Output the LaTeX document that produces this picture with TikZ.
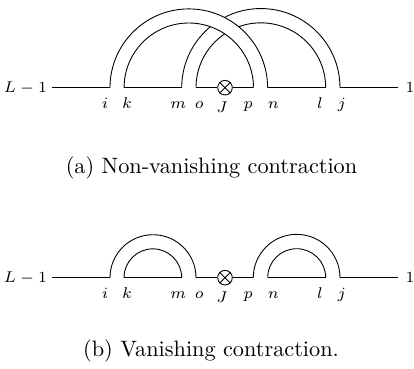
\documentclass[tikz,border=0pt]{standalone}
\begin{document}
\begin{tikzpicture}[x=0.4492pt,y=0.4492pt,
  lbl/.style={font=\scriptsize, anchor=base, inner sep=0pt},
  endlbl/.style={font=\scriptsize, inner sep=0pt},
  captext/.style={font=\normalsize, anchor=base, inner sep=0pt},
  src/.style={circle, draw, inner sep=0pt, minimum size=6.56pt},
  bandfill/.style={fill=white, draw=none}]
\useasboundingbox (0,0) rectangle (414,369);

% ---------- (a) ----------
\coordinate (aL) at (52.3,281.3);
\coordinate (aR) at (397.7,281.3);
\coordinate (ai) at (110,281.3);
\coordinate (ak) at (124.1,281.3);
\coordinate (am) at (181.7,281.3);
\coordinate (ao) at (196,281.3);
\coordinate (ap) at (253.5,281.3);
\coordinate (an) at (267.6,281.3);
\coordinate (al) at (325.7,281.3);
\coordinate (aj) at (340,281.3);
\node[src] (aJ) at (225,281.3) {};
\draw (aJ.north west) -- (aJ.south east) (aJ.north east) -- (aJ.south west);

% band m-j (under)
\fill[bandfill] (am) arc[start angle=180,end angle=0,radius=79.15] -- (al) arc[start angle=0,end angle=180,radius=64.85] -- cycle;
\draw (am) arc[start angle=180,end angle=0,radius=79.15];
\draw (ao) arc[start angle=180,end angle=0,radius=64.85];
% band i-n (over)
\fill[bandfill] (ai) arc[start angle=180,end angle=0,radius=78.8] -- (ap) arc[start angle=0,end angle=180,radius=64.7] -- cycle;
\draw (ai) arc[start angle=180,end angle=0,radius=78.8];
\draw (ak) arc[start angle=180,end angle=0,radius=64.7];

\draw (aL) -- (ai) (ak) -- (am) (ao) -- (aJ.west) (aJ.east) -- (ap) (an) -- (al) (aj) -- (aR);

\node[endlbl] (aLl) at (25.5,281.3) {$L-1$};
\node[endlbl] (aRl) at (410,281.3) {$1$};
\node[lbl] (ail) at (105,260.3) {$i$};
\node[lbl] (akl) at (127,260.3) {$k$};
\node[lbl] (aml) at (178.3,260.3) {$m$};
\node[lbl] (aol) at (199.3,260.3) {$o$};
\node[lbl] (aJl) at (222,256.3) {$J$};
\node[lbl] (apl) at (248.3,260.3) {$p$};
\node[lbl] (anl) at (273.3,260.3) {$n$};
\node[lbl] (all) at (320,260.3) {$l$};
\node[lbl] (ajl) at (341.7,260.3) {$j$};
\node[captext] (capa) at (211.5,196) {(a) Non-vanishing contraction};

% ---------- (b) ----------
\coordinate (bL) at (52.3,91.3);
\coordinate (bR) at (397.7,91.3);
\coordinate (bi) at (110,91.3);
\coordinate (bk) at (124,91.3);
\coordinate (bm) at (181.7,91.3);
\coordinate (bo) at (196,91.3);
\coordinate (bp) at (253.3,91.3);
\coordinate (bn) at (267.7,91.3);
\coordinate (bl) at (325.7,91.3);
\coordinate (bj) at (340,91.3);
\node[src] (bJ) at (225,91.3) {};
\draw (bJ.north west) -- (bJ.south east) (bJ.north east) -- (bJ.south west);

\draw (bi) arc[start angle=180,end angle=0,radius=43];
\draw (bk) arc[start angle=180,end angle=0,radius=28.85];
\draw (bp) arc[start angle=180,end angle=0,radius=43.35];
\draw (bn) arc[start angle=180,end angle=0,radius=29];

\draw (bL) -- (bi) (bk) -- (bm) (bo) -- (bJ.west) (bJ.east) -- (bp) (bn) -- (bl) (bj) -- (bR);

\node[endlbl] (bLl) at (25.5,91.3) {$L-1$};
\node[endlbl] (bRl) at (410,91.3) {$1$};
\node[lbl] (bil) at (105,70.3) {$i$};
\node[lbl] (bkl) at (127,70.3) {$k$};
\node[lbl] (bml) at (178.3,70.3) {$m$};
\node[lbl] (bol) at (199.3,70.3) {$o$};
\node[lbl] (bJl) at (222,66.3) {$J$};
\node[lbl] (bpl) at (248.3,70.3) {$p$};
\node[lbl] (bnl) at (273.3,70.3) {$n$};
\node[lbl] (bll) at (320,70.3) {$l$};
\node[lbl] (bjl) at (341.7,70.3) {$j$};
\node[captext] (capb) at (211,12) {(b) Vanishing contraction.};
\end{tikzpicture}
\end{document}
